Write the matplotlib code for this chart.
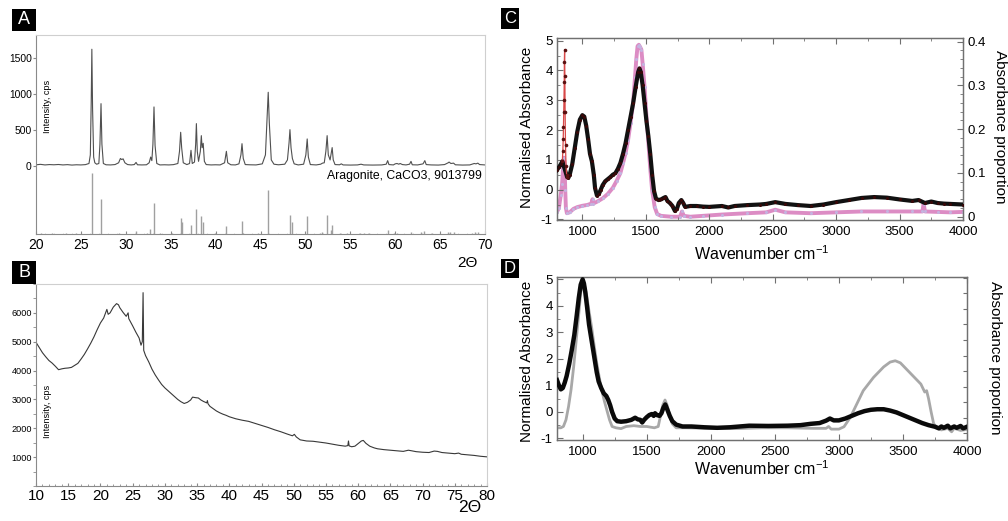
import matplotlib
matplotlib.use('Agg')
import matplotlib.pyplot as plt
from matplotlib.ticker import MultipleLocator, FixedLocator, FuncFormatter, NullFormatter
from matplotlib.patches import Rectangle
from matplotlib import font_manager

# ---------------- DATA ----------------
# Panel A: XRD pattern (2theta, cps)
a_two_theta = [20.0, 20.5, 21.0, 21.5, 22.0, 22.5, 23.0, 23.5, 24.0, 24.5, 25.0, 25.5, 25.9,
               26.05, 26.15, 26.22, 26.30, 26.42, 26.55, 26.75,
               27.0, 27.12, 27.24, 27.34, 27.5, 27.8, 28.3, 28.8,
               29.2, 29.4, 29.55, 29.7, 29.9, 30.2, 30.6, 30.95, 31.14, 31.3, 31.8, 32.3,
               32.6, 32.77, 32.9, 33.02, 33.14, 33.26, 33.45, 33.8, 34.3, 34.8, 35.3,
               35.8, 35.98, 36.11, 36.22, 36.4, 36.8, 37.1, 37.26, 37.4,
               37.65, 37.78, 37.86, 37.96, 38.1, 38.3, 38.41, 38.5, 38.62, 38.75, 38.95,
               39.5, 40.0, 40.5, 41.0, 41.2, 41.35, 41.7, 42.2,
               42.6, 42.82, 42.94, 43.08, 43.3, 43.8, 44.5,
               45.2, 45.55, 45.75, 45.86, 45.98, 46.2, 46.5, 47.0,
               47.7, 48.0, 48.18, 48.28, 48.4, 48.55, 48.75, 49.2,
               49.8, 50.05, 50.2, 50.33, 50.55, 51.2, 51.7, 51.9,
               52.1, 52.28, 52.42, 52.55, 52.75, 52.88, 52.98, 53.1, 53.3, 53.8,
               54.0, 54.2, 55.0, 55.8, 56.2, 56.5, 57.5, 58.5, 59.0, 59.16, 59.3, 59.8,
               60.0, 60.2, 60.4, 60.55, 60.8, 61.2, 61.6, 61.76, 61.9, 62.5,
               63.1, 63.3, 63.45, 64.0, 64.8, 65.5, 65.9, 66.0, 66.2, 66.5, 66.7,
               67.5, 68.3, 68.8, 69.0, 69.2, 69.4, 70.0]
a_cps = [12, 18, 10, 15, 12, 16, 10, 14, 8, 12, 10, 14, 30,
         150, 900, 1626, 800, 120, 40, 20,
         30, 300, 866, 300, 30, 12, 10, 15,
         40, 100, 85, 95, 40, 15, 10, 15, 45, 12, 10, 12,
         40, 120, 70, 300, 820, 280, 30, 10, 12, 10, 14,
         30, 200, 466, 250, 40, 15, 30, 214, 30,
         50, 300, 587, 200, 60, 200, 419, 250, 312, 60, 15,
         10, 12, 10, 40, 200, 40, 12, 10,
         25, 150, 307, 100, 15, 12, 10,
         25, 150, 700, 1025, 600, 80, 20, 12,
         20, 80, 320, 503, 250, 100, 25, 10,
         20, 150, 373, 120, 15, 10, 20, 35,
         40, 200, 419, 150, 80, 180, 252, 80, 15, 12,
         25, 10, 8, 10, 20, 10, 8, 10, 20, 70, 15, 10,
         25, 30, 20, 30, 15, 10, 20, 60, 12, 10,
         25, 70, 15, 10, 8, 15, 40, 50, 30, 35, 12,
         8, 10, 30, 25, 35, 15, 10]

# Panel A: reference pattern sticks (Aragonite, relative intensity)
a_ref_pos = [20.6, 21.8, 23.3, 24.5, 26.22, 27.24, 29.2, 31.14, 32.4, 32.72, 33.14, 33.8, 35.2,
             36.11, 36.22, 37.26, 37.86, 38.41, 38.62, 39.9, 41.2, 42.94, 43.1, 44.7,
             45.86, 48.28, 48.5, 50.2, 51.6, 51.9, 52.42, 52.88, 53.0, 53.9, 54.6, 56.1,
             56.5, 57.1, 59.2, 59.9, 60.2, 61.8, 62.9, 63.25, 64.1, 65.9, 66.1, 66.6,
             68.5, 68.85, 69.2]
a_ref_int = [1, 1, 1, 1, 100, 57, 1, 5, 1, 8, 51, 1, 1,
             27, 19, 14, 41, 29, 19, 1, 13, 21, 1, 1,
             72, 31, 19, 30, 1, 3, 31, 7, 14, 1, 1, 1,
             1, 1, 6, 1, 2, 4, 3, 5, 1, 3, 3, 3,
             1, 3, 4]

# Panel B: XRD pattern (2theta, cps)
b_two_theta = [10.0, 10.5, 11.0, 11.5, 12.0, 12.5, 13.0, 13.5, 14.0, 14.5, 15.0, 15.5, 16.0,
               16.5, 17.0, 17.5, 18.0, 18.5, 19.0, 19.5, 20.0, 20.5, 21.0, 21.2, 21.5,
               22.0, 22.5, 22.8, 23.0, 23.5, 24.0, 24.3, 24.4, 25.0, 25.5, 26.0, 26.3,
               26.5, 26.62, 26.72, 27.0, 27.5, 28.0, 28.5, 29.0, 29.5, 30.0, 30.5, 31.0,
               31.5, 32.0, 32.5, 33.0, 33.5, 34.0, 34.3, 34.8, 35.2, 35.6, 36.0, 36.5,
               36.6, 36.7, 37.0, 37.5, 38.0, 38.5, 39.0, 39.5, 40.0, 41.0, 42.0, 43.0,
               44.0, 45.0, 46.0, 47.0, 48.0, 49.0, 49.8, 50.1, 50.4, 51.0, 52.0, 53.0,
               54.0, 55.0, 56.0, 57.0, 58.0, 58.4, 58.5, 58.6, 59.0, 59.5, 60.0, 60.5,
               60.8, 61.2, 61.8, 62.5, 63.0, 64.0, 65.0, 66.0, 67.0, 67.8, 68.3, 69.0,
               70.0, 71.0, 71.8, 72.3, 73.0, 74.0, 75.0, 75.6, 76.0, 77.0, 78.0, 79.0, 80.0]
b_cps = [4980, 4800, 4620, 4480, 4350, 4260, 4150, 4030, 4060, 4080, 4090, 4110, 4180,
         4250, 4400, 4560, 4750, 4950, 5170, 5420, 5650, 5820, 6120, 5950, 6000,
         6200, 6320, 6280, 6180, 6020, 5880, 6000, 5800, 5550, 5330, 5130, 4880,
         5000, 6700, 4700, 4520, 4300, 4050, 3850, 3680, 3520, 3400, 3300, 3200,
         3100, 3000, 2920, 2860, 2900, 2980, 3080, 3060, 3050, 2980, 2930, 2880,
         2960, 2850, 2760, 2680, 2600, 2540, 2490, 2450, 2400, 2330, 2280, 2240,
         2170, 2100, 2030, 1950, 1880, 1800, 1740, 1790, 1700, 1600, 1560, 1550,
         1520, 1490, 1450, 1410, 1380, 1400, 1560, 1390, 1360, 1380, 1470, 1560,
         1580, 1480, 1380, 1320, 1290, 1260, 1240, 1220, 1200, 1240, 1220, 1190,
         1170, 1160, 1210, 1200, 1160, 1140, 1120, 1140, 1100, 1080, 1060, 1030, 1010]

# Panel C: sample spectrum (normalised absorbance, left axis)
c_wn = [800, 815, 830, 842, 880, 890, 900, 920, 940, 960, 980, 1000, 1015, 1030, 1045, 1060,
        1075, 1090, 1100, 1115, 1130, 1145, 1160, 1180, 1200, 1220, 1240, 1260, 1280, 1300,
        1320, 1340, 1360, 1380, 1400, 1420, 1440, 1450, 1460, 1475, 1490, 1505, 1520, 1535,
        1550, 1565, 1580, 1600, 1620, 1640, 1655, 1670, 1690, 1710, 1730, 1745, 1760, 1780,
        1795, 1810, 1850, 1900, 1950, 2000, 2100, 2150, 2200, 2300, 2400, 2450, 2520, 2600,
        2700, 2800, 2900, 3000, 3100, 3200, 3300, 3400, 3500, 3600, 3650, 3700, 3750, 3800,
        3850, 3900, 4000]
c_abs = [0.66, 0.75, 0.85, 0.95, 0.42, 0.40, 0.50, 0.85, 1.40, 1.95, 2.35, 2.50, 2.45, 2.15,
         1.70, 1.20, 0.95, 0.50, 0.05, -0.20, -0.15, 0.00, 0.15, 0.28, 0.35, 0.42, 0.50, 0.55,
         0.70, 0.90, 1.20, 1.55, 2.00, 2.45, 2.90, 3.45, 3.95, 4.07, 3.95, 3.50, 2.90, 2.30,
         1.80, 1.20, 0.50, -0.05, -0.30, -0.35, -0.33, -0.28, -0.25, -0.38, -0.45, -0.55,
         -0.72, -0.65, -0.45, -0.35, -0.45, -0.58, -0.55, -0.55, -0.57, -0.58, -0.55, -0.60,
         -0.55, -0.52, -0.50, -0.48, -0.42, -0.48, -0.52, -0.55, -0.50, -0.42, -0.35, -0.28,
         -0.25, -0.27, -0.33, -0.38, -0.35, -0.45, -0.40, -0.45, -0.47, -0.48, -0.50]
# Panel C: sharp band drawn in red
c_spike_wn = [842, 846, 849, 851, 853, 855, 857, 858, 860, 862, 864, 867, 871, 876, 880]
c_spike_abs = [0.95, 1.30, 1.70, 2.10, 2.60, 3.00, 3.60, 4.30, 4.70, 3.80, 2.60, 1.50, 0.80, 0.50, 0.42]
# Panel C: reference spectrum (absorbance proportion, right axis)
c_ref_wn = [800, 815, 830, 840, 848, 855, 860, 865, 870, 878, 900, 930, 960, 1000, 1040, 1070,
            1080, 1085, 1120, 1160, 1200, 1240, 1270, 1300, 1320, 1340, 1360, 1380, 1400,
            1415, 1425, 1435, 1445, 1455, 1465, 1475, 1490, 1505, 1520, 1535, 1550, 1570,
            1590, 1620, 1700, 1770, 1785, 1800, 1850, 1950, 2100, 2300, 2450, 2520, 2600,
            2800, 3000, 3200, 3400, 3600, 3680, 3690, 3700, 3800, 3900, 4000]
c_ref_prop = [0.011, 0.020, 0.050, 0.075, 0.110, 0.135, 0.120, 0.060, 0.020, 0.008, 0.010,
              0.018, 0.022, 0.025, 0.027, 0.030, 0.040, 0.030, 0.035, 0.042, 0.052, 0.066,
              0.082, 0.100, 0.122, 0.145, 0.175, 0.215, 0.260, 0.320, 0.360, 0.390, 0.393,
              0.388, 0.382, 0.350, 0.297, 0.230, 0.170, 0.110, 0.060, 0.022, 0.006, 0.002,
              0.000, 0.000, 0.012, 0.002, 0.000, 0.002, 0.005, 0.008, 0.010, 0.016, 0.010,
              0.008, 0.010, 0.012, 0.012, 0.012, 0.012, 0.030, 0.012, 0.011, 0.010, 0.011]

# Panel D: sample spectrum (black) and reference (grey)
d_wn = [800, 815, 830, 845, 860, 875, 895, 914, 935, 953, 970, 985, 1000, 1010, 1020, 1035,
        1050, 1070, 1090, 1110, 1125, 1145, 1165, 1185, 1200, 1215, 1230, 1250, 1270, 1300,
        1340, 1380, 1410, 1430, 1450, 1465, 1480, 1500, 1520, 1540, 1555, 1565, 1580, 1600,
        1615, 1630, 1645, 1660, 1680, 1700, 1730, 1780, 1850, 1950, 2050, 2150, 2300, 2450,
        2600, 2700, 2780, 2850, 2900, 2930, 2960, 3000, 3050, 3100, 3150, 3200, 3250, 3300,
        3350, 3400, 3450, 3500, 3550, 3600, 3650, 3700, 3750, 3780, 3800, 3820, 3850, 3870,
        3900, 3920, 3950, 3970, 4000]
d_abs = [1.20, 1.00, 0.85, 0.90, 1.10, 1.35, 1.80, 2.30, 2.90, 3.60, 4.30, 4.80, 5.00, 4.85,
         4.55, 3.95, 3.30, 2.70, 2.10, 1.50, 1.15, 0.90, 0.70, 0.60, 0.45, 0.25, 0.00, -0.25,
         -0.35, -0.37, -0.35, -0.30, -0.22, -0.28, -0.30, -0.40, -0.30, -0.20, -0.12, -0.08,
         -0.15, -0.05, -0.12, -0.15, -0.05, 0.15, 0.28, 0.10, -0.15, -0.35, -0.48, -0.55,
         -0.55, -0.58, -0.60, -0.58, -0.52, -0.53, -0.52, -0.50, -0.45, -0.42, -0.33, -0.25,
         -0.32, -0.32, -0.25, -0.15, -0.05, 0.03, 0.08, 0.10, 0.10, 0.05, -0.02, -0.12, -0.22,
         -0.32, -0.42, -0.50, -0.56, -0.62, -0.55, -0.60, -0.52, -0.62, -0.55, -0.60, -0.53,
         -0.62, -0.56]
d_ref_wn = [800, 830, 850, 870, 890, 910, 930, 950, 970, 985, 1000, 1015, 1030, 1050, 1070,
            1090, 1110, 1130, 1150, 1170, 1190, 1210, 1230, 1260, 1300, 1340, 1400, 1450,
            1500, 1560, 1590, 1610, 1625, 1643, 1660, 1680, 1700, 1730, 1800, 2000, 2200,
            2400, 2600, 2800, 2900, 2920, 2940, 3000, 3040, 3090, 3140, 3190, 3230, 3270,
            3310, 3350, 3400, 3440, 3480, 3520, 3560, 3600, 3640, 3670, 3685, 3700, 3720,
            3740, 3770, 3800, 3850, 3880, 3900, 3950, 4000]
d_ref_abs = [-0.60, -0.60, -0.55, -0.30, 0.20, 0.85, 1.70, 2.70, 3.70, 4.50, 4.80, 4.75,
             4.45, 3.80, 3.20, 2.50, 1.85, 1.30, 0.80, 0.40, 0.05, -0.30, -0.55, -0.60,
             -0.63, -0.55, -0.52, -0.55, -0.55, -0.60, -0.55, -0.10, 0.25, 0.45, 0.25, -0.15,
             -0.45, -0.60, -0.60, -0.62, -0.63, -0.60, -0.60, -0.62, -0.62, -0.55, -0.65,
             -0.65, -0.56, -0.20, 0.30, 0.80, 1.05, 1.30, 1.50, 1.70, 1.88, 1.93, 1.85, 1.65,
             1.45, 1.25, 1.05, 0.75, 0.80, 0.50, 0.00, -0.45, -0.62, -0.68, -0.62, -0.75,
             -0.62, -0.70, -0.66]

# ---------------- STYLE ----------------
W, H = 1008, 521
plt.rcParams['font.family'] = ['Liberation Sans', 'DejaVu Sans']
plt.rcParams['mathtext.default'] = 'regular'
names = {f.name for f in font_manager.fontManager.ttflist}
if 'Liberation Sans Narrow' in names:
    NARROW, NSCALE = ['Liberation Sans Narrow', 'Liberation Sans'], 1.0
else:
    NARROW, NSCALE = ['Liberation Sans', 'DejaVu Sans'], 0.82


def fbox(x0, y0, x1, y1):
    return [x0 / W, 1 - y1 / H, (x1 - x0) / W, (y1 - y0) / H]


def panel_label(fig, letter, x0, y0, x1, y1, size=13):
    fig.patches.append(Rectangle((x0 / W, 1 - y1 / H), (x1 - x0) / W, (y1 - y0) / H,
                                 transform=fig.transFigure, facecolor='black',
                                 edgecolor='none'))
    fig.text((x0 + x1) / 2 / W, 1 - (y0 + y1) / 2 / H, letter, color='white',
             ha='center', va='center', size=size)


LIGHT = '#cfcfcf'
MID = '#8a8a8a'
FRAME = '#707070'

fig = plt.figure(figsize=(W / 100, H / 100), dpi=100)

# ---------------- Panel A ----------------
axA = fig.add_axes(fbox(36, 35, 485, 166))
axA.plot(a_two_theta, a_cps, color='#505050', lw=0.8)
axA.set_xlim(20, 70)
axA.set_ylim(-5, 1825)
axA.spines['top'].set_color(LIGHT)
axA.spines['right'].set_color(LIGHT)
axA.spines['left'].set_color(MID)
axA.spines['bottom'].set_visible(False)
axA.set_xticks([])
axA.set_yticks([0, 500, 1000, 1500])
axA.tick_params(axis='y', direction='out', length=2, color=MID, pad=1,
                labelsize=9 * NSCALE)
for lab in axA.get_yticklabels():
    lab.set_fontfamily(NARROW)

axS = fig.add_axes(fbox(36, 166, 485, 234))
axS.vlines(a_ref_pos, 0, a_ref_int, color='#a0a0a0', lw=1.0)
axS.set_xlim(20, 70)
axS.set_ylim(0, 111.5)
axS.spines['top'].set_visible(False)
axS.spines['right'].set_color(LIGHT)
axS.spines['left'].set_color(MID)
axS.spines['bottom'].set_color(MID)
axS.set_yticks([])
axS.xaxis.set_major_locator(MultipleLocator(5))
axS.xaxis.set_minor_locator(MultipleLocator(1))
axS.tick_params(axis='x', which='major', direction='in', length=2, color=MID,
                labelsize=10, pad=3)
axS.tick_params(axis='x', which='minor', direction='in', length=1, color=LIGHT)
fig.text(482 / W, 1 - 176 / H, 'Aragonite, CaCO3, 9013799', ha='right', va='center',
         size=8.8)
fig.text(47 / W, 1 - 106 / H, 'Intensity, cps', rotation=90, ha='center', va='center',
         size=8 * NSCALE, family=NARROW)
fig.text(467 / W, 1 - 263 / H, '2Θ', ha='center', va='center', size=11)
panel_label(fig, 'A', 12, 9, 36, 31)

# ---------------- Panel B ----------------
axB = fig.add_axes(fbox(36, 284, 487, 486))
axB.plot(b_two_theta, b_cps, color='#383838', lw=0.8)
axB.set_xlim(10, 80)
axB.set_ylim(0, 7000)
axB.spines['top'].set_color(LIGHT)
axB.spines['right'].set_color(LIGHT)
axB.spines['left'].set_color(MID)
axB.spines['bottom'].set_color(MID)
axB.yaxis.set_major_locator(FixedLocator([1000, 2000, 3000, 4000, 5000, 6000]))
axB.yaxis.set_minor_locator(MultipleLocator(500))
axB.xaxis.set_major_locator(MultipleLocator(5))
axB.xaxis.set_minor_locator(MultipleLocator(1))
axB.tick_params(axis='y', which='major', direction='out', length=2, color=MID, pad=1,
                labelsize=8 * NSCALE)
axB.tick_params(axis='y', which='minor', direction='out', length=2, color=MID)
axB.tick_params(axis='x', which='major', direction='in', length=2, color=MID,
                labelsize=11, pad=2)
axB.tick_params(axis='x', which='minor', direction='in', length=1.5, color=MID)
for lab in axB.get_yticklabels():
    lab.set_fontfamily(NARROW)
fig.text(47 / W, 1 - 411 / H, 'Intensity, cps', rotation=90, ha='center', va='center',
         size=8 * NSCALE, family=NARROW)
fig.text(470 / W, 1 - 508 / H, '2Θ', ha='center', va='center', size=12.5)
panel_label(fig, 'B', 12, 261, 36, 284)


def style_ir(ax):
    ax.set_xlim(800, 4000)
    ax.xaxis.set_major_locator(MultipleLocator(500))
    ax.xaxis.set_minor_locator(MultipleLocator(250))
    ax.yaxis.set_major_locator(MultipleLocator(1))
    ax.yaxis.set_minor_locator(MultipleLocator(0.5))
    ax.tick_params(which='both', direction='in', top=True, color=FRAME, labelsize=9.5)
    ax.tick_params(which='major', length=4)
    ax.tick_params(which='minor', length=2.5)
    ax.tick_params(axis='x', pad=4.5)
    ax.tick_params(axis='y', pad=3)
    for s in ax.spines.values():
        s.set_color(FRAME)
        s.set_linewidth(0.9)
    ax.yaxis.set_major_formatter(FuncFormatter(lambda v, p: '{:g}'.format(v)))


# ---------------- Panel C ----------------
axC = fig.add_axes(fbox(557, 38, 963, 220))
axC2 = axC.twinx()
axC.set_zorder(2)
axC.patch.set_visible(False)
axC2.plot(c_ref_wn, c_ref_prop, color='#dc8cc4', lw=2.8, marker='o', ms=2.2,
          mfc='#c4b4e0', mec='none', zorder=2)
axC.plot(c_wn, c_abs, color='#111111', lw=3.0, marker='o', ms=2.2, mfc='#3a0808',
         mec='none', zorder=3)
axC.plot(c_spike_wn, c_spike_abs, color='#d84848', lw=0.9, marker='o', ms=2.6,
         mfc='#5a1010', mec='none', zorder=4)
style_ir(axC)
axC.tick_params(right=False)
axC.set_ylim(-1.02, 5.09)
axC2.set_ylim(-0.0075, 0.4085)
axC2.yaxis.set_major_locator(MultipleLocator(0.1))
axC2.yaxis.set_minor_locator(MultipleLocator(0.02))
axC2.tick_params(which='both', direction='in', color=FRAME, labelsize=9.5, pad=3)
axC2.tick_params(which='major', length=4)
axC2.tick_params(which='minor', length=2.5)
axC2.yaxis.set_major_formatter(FuncFormatter(lambda v, p: '{:g}'.format(round(v, 2))))
for s in axC2.spines.values():
    s.set_color(FRAME)
    s.set_linewidth(0.9)
fig.text(527 / W, 1 - 127 / H, 'Normalised Absorbance', rotation=90, ha='center',
         va='center', size=11)
fig.text(1000 / W, 1 - 126.5 / H, 'Absorbance proportion', rotation=-90, ha='center',
         va='center', size=11)
fig.text(762 / W, 1 - 254 / H, 'Wavenumber cm$^{-1}$', ha='center', va='center', size=11.5)
panel_label(fig, 'C', 501, 8, 519, 29, size=12)

# ---------------- Panel D ----------------
axD = fig.add_axes(fbox(557, 277, 967, 440))
axD2 = axD.twinx()
axD.set_zorder(2)
axD.patch.set_visible(False)
axD.plot(d_ref_wn, d_ref_abs, color='#a8a8a8', lw=2.0, zorder=2)
axD.plot(d_wn, d_abs, color='#0a0a0a', lw=3.2, zorder=3)
style_ir(axD)
axD.tick_params(right=False)
axD.set_ylim(-1.06, 5.09)
axD2.set_ylim(-0.0215, 0.5024)
axD2.yaxis.set_major_locator(MultipleLocator(0.05))
axD2.yaxis.set_major_formatter(NullFormatter())
axD2.tick_params(which='both', direction='in', color=FRAME, length=3)
for s in axD2.spines.values():
    s.set_color(FRAME)
    s.set_linewidth(0.9)
fig.text(527 / W, 1 - 361 / H, 'Normalised Absorbance', rotation=90, ha='center',
         va='center', size=11)
fig.text(995 / W, 1 - 357.5 / H, 'Absorbance proportion', rotation=-90, ha='center',
         va='center', size=11)
fig.text(762 / W, 1 - 469 / H, 'Wavenumber cm$^{-1}$', ha='center', va='center', size=11.5)
panel_label(fig, 'D', 501, 259, 519, 278, size=12)

fig.savefig('out.png', dpi=100)
